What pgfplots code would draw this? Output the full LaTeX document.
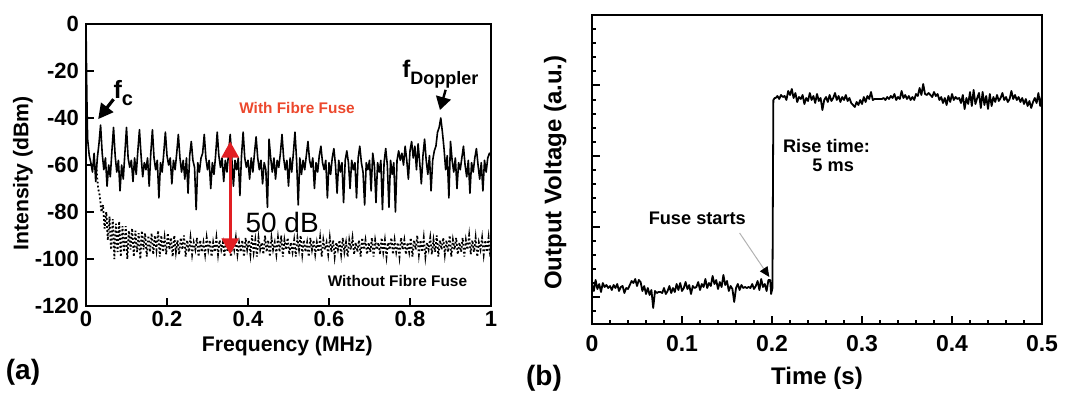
\documentclass[border=0pt]{standalone}
\usepackage{fontspec}
\setmainfont{Liberation Sans}
\usepackage{pgfplots}
\pgfplotsset{compat=1.18}
\usetikzlibrary{arrows.meta}
\definecolor{arrred}{RGB}{225,30,35}
\definecolor{txtred}{RGB}{236,72,45}
\begin{document}
\begin{tikzpicture}
\useasboundingbox (0,0) rectangle (540pt,196pt);
\begin{axis}[
 at={(43pt,43pt)}, anchor=south west, scale only axis, width=202.5pt, height=141pt,
 xmin=0, xmax=1, ymin=-120, ymax=0,
 axis line style={line width=1.2pt},
 tick align=inside, xtick pos=bottom, ytick pos=left,
 major tick length=4pt, every tick/.style={black, line width=1pt},
 xtick={0,0.2,0.4,0.6,0.8,1}, xticklabels={0,0.2,0.4,0.6,0.8,1},
 ytick={-120,-100,-80,-60,-40,-20,0}, yticklabels={-120,-100,-80,-60,-40,-20,0},
 tick label style={font=\bfseries\fontsize{11}{11}\selectfont},
 xticklabel style={yshift=1pt},
 xlabel={Frequency (MHz)}, ylabel={Intensity (dBm)},
 label style={font=\bfseries\fontsize{10.6}{11}\selectfont},
 xlabel style={at={(axis description cs:0.497,-0.143)}, anchor=center},
 ylabel style={at={(axis description cs:-0.156,0.47)}, anchor=center},
]
\addplot[black, line width=0.9pt, dash pattern=on 0.9pt off 1.1pt] coordinates {
(0.026,-62)(0.030,-70)(0.034,-73)(0.038,-80)(0.042,-77)(0.046,-87)(0.050,-80)(0.054,-92)(0.058,-82)(0.062,-96)
(0.066,-83)(0.070,-100)(0.074,-85)(0.078,-97)(0.082,-84)(0.086,-99)(0.090,-86)(0.094,-97)(0.098,-86)(0.102,-100)
(0.106,-88)(0.110,-96)(0.114,-87)(0.118,-99)(0.122,-88)(0.126,-97)(0.130,-89)(0.134,-100)(0.138,-88)(0.142,-96)
(0.146,-89)(0.150,-99)(0.154,-90)(0.158,-97)(0.162,-89)(0.166,-98)(0.170,-90)(0.174,-96)(0.178,-88)(0.182,-99)
(0.186,-90)(0.190,-97)(0.194,-91)(0.198,-98)(0.202,-89)(0.206,-96)(0.210,-91)(0.214,-99)(0.218,-90)(0.222,-97)
(0.226,-92)(0.230,-98)(0.234,-91)(0.238,-96)(0.242,-90)(0.246,-99)(0.250,-92)(0.254,-97)(0.258,-91)(0.262,-98)
(0.266,-93)(0.270,-96)(0.274,-91)(0.278,-99)(0.282,-92)(0.286,-97)(0.290,-93)(0.294,-98)(0.298,-91)(0.302,-96)
(0.306,-92)(0.310,-99)(0.314,-93)(0.318,-97)(0.322,-91)(0.326,-98)(0.330,-92)(0.334,-96)(0.338,-93)(0.342,-99)
(0.346,-92)(0.350,-97)(0.354,-93)(0.358,-99)(0.362,-92)(0.366,-96)(0.370,-91)(0.374,-98)(0.378,-93)(0.382,-97)
(0.386,-92)(0.390,-99)(0.394,-91)(0.398,-96)(0.402,-92)(0.406,-98)(0.410,-90)(0.414,-97)(0.418,-92)(0.422,-99)
(0.426,-91)(0.430,-96)(0.434,-93)(0.438,-98)(0.442,-90)(0.446,-97)(0.450,-92)(0.454,-99)(0.458,-91)(0.462,-96)
(0.466,-93)(0.470,-98)(0.474,-91)(0.478,-97)(0.482,-90)(0.486,-99)(0.490,-92)(0.494,-96)(0.498,-91)(0.502,-98)
(0.506,-93)(0.510,-97)(0.514,-92)(0.518,-99)(0.522,-91)(0.526,-96)(0.530,-90)(0.534,-98)(0.538,-92)(0.542,-97)
(0.546,-93)(0.550,-99)(0.554,-91)(0.558,-96)(0.562,-92)(0.566,-98)(0.570,-93)(0.574,-97)(0.578,-91)(0.582,-99)
(0.586,-92)(0.590,-96)(0.594,-93)(0.598,-98)(0.602,-91)(0.606,-97)(0.610,-92)(0.614,-99)(0.618,-93)(0.622,-96)
(0.626,-92)(0.630,-98)(0.634,-91)(0.638,-97)(0.642,-93)(0.646,-99)(0.650,-92)(0.654,-96)(0.658,-91)(0.662,-98)
(0.666,-93)(0.670,-97)(0.674,-92)(0.678,-99)(0.682,-91)(0.686,-96)(0.690,-92)(0.694,-98)(0.698,-93)(0.702,-97)
(0.706,-91)(0.710,-99)(0.714,-92)(0.718,-96)(0.722,-93)(0.726,-98)(0.730,-91)(0.734,-97)(0.738,-92)(0.742,-99)
(0.746,-93)(0.750,-96)(0.754,-91)(0.758,-98)(0.762,-92)(0.766,-97)(0.770,-93)(0.774,-99)(0.778,-91)(0.782,-96)
(0.786,-92)(0.790,-98)(0.794,-93)(0.798,-97)(0.802,-91)(0.806,-99)(0.810,-92)(0.814,-96)(0.818,-90)(0.822,-98)
(0.826,-92)(0.830,-97)(0.834,-91)(0.838,-99)(0.842,-93)(0.846,-96)(0.850,-91)(0.854,-98)(0.858,-92)(0.862,-97)
(0.866,-90)(0.870,-99)(0.874,-92)(0.878,-96)(0.882,-91)(0.886,-98)(0.890,-92)(0.894,-97)(0.898,-90)(0.902,-99)
(0.906,-92)(0.910,-96)(0.914,-91)(0.918,-98)(0.922,-93)(0.926,-97)(0.930,-91)(0.934,-99)(0.938,-92)(0.942,-96)
(0.946,-90)(0.950,-98)(0.954,-92)(0.958,-97)(0.962,-91)(0.966,-99)(0.970,-93)(0.974,-96)(0.978,-91)(0.982,-98)
(0.986,-92)(0.990,-97)(0.994,-91)(0.998,-99)(1.000,-94)
};
\addplot[black, line width=0.8pt, line join=round] coordinates {
(0,0)(0.002,-30)(0.004,-49)(0.008,-56)(0.012,-59)(0.016,-63)(0.020,-55)(0.024,-67)(0.028,-57)(0.032,-51)
(0.036,-43)(0.040,-55)(0.044,-62)(0.048,-57)(0.052,-69)(0.056,-60)(0.060,-65)(0.064,-54)(0.068,-44)(0.072,-56)
(0.076,-63)(0.080,-58)(0.084,-71)(0.088,-60)(0.092,-66)(0.096,-55)(0.100,-44)(0.104,-57)(0.108,-61)(0.112,-58)
(0.116,-67)(0.120,-57)(0.124,-64)(0.128,-54)(0.132,-45)(0.136,-56)(0.140,-65)(0.144,-59)(0.148,-62)(0.152,-57)
(0.156,-69)(0.160,-55)(0.164,-45)(0.168,-57)(0.172,-62)(0.176,-58)(0.180,-74)(0.184,-59)(0.188,-63)(0.192,-55)
(0.196,-46)(0.200,-56)(0.204,-60)(0.208,-57)(0.212,-68)(0.216,-58)(0.220,-62)(0.224,-55)(0.228,-47)(0.232,-57)
(0.236,-63)(0.240,-58)(0.244,-66)(0.248,-57)(0.252,-72)(0.256,-56)(0.260,-50)(0.264,-58)(0.268,-61)(0.272,-79)
(0.276,-59)(0.280,-63)(0.284,-57)(0.288,-55)(0.292,-47)(0.296,-57)(0.300,-62)(0.304,-58)(0.308,-70)(0.312,-59)
(0.316,-64)(0.320,-56)(0.324,-46)(0.328,-56)(0.332,-61)(0.336,-57)(0.340,-67)(0.344,-58)(0.348,-63)(0.352,-55)
(0.356,-47)(0.360,-57)(0.364,-69)(0.368,-58)(0.372,-62)(0.376,-57)(0.380,-73)(0.384,-56)(0.388,-46)(0.392,-57)
(0.396,-61)(0.400,-58)(0.404,-66)(0.408,-57)(0.412,-63)(0.416,-55)(0.420,-48)(0.424,-57)(0.428,-62)(0.432,-58)
(0.436,-68)(0.440,-59)(0.444,-62)(0.448,-78)(0.452,-49)(0.456,-57)(0.460,-63)(0.464,-57)(0.468,-66)(0.472,-58)
(0.476,-61)(0.480,-55)(0.484,-47)(0.488,-57)(0.492,-62)(0.496,-58)(0.500,-69)(0.504,-57)(0.508,-63)(0.512,-55)
(0.516,-46)(0.520,-58)(0.524,-77)(0.528,-57)(0.532,-64)(0.536,-58)(0.540,-62)(0.544,-56)(0.548,-50)(0.552,-58)
(0.556,-61)(0.560,-57)(0.564,-70)(0.568,-59)(0.572,-63)(0.576,-56)(0.580,-52)(0.584,-59)(0.588,-62)(0.592,-58)
(0.596,-74)(0.600,-59)(0.604,-64)(0.608,-57)(0.612,-53)(0.616,-60)(0.620,-72)(0.624,-58)(0.628,-63)(0.632,-59)
(0.636,-76)(0.640,-58)(0.644,-54)(0.648,-59)(0.652,-70)(0.656,-58)(0.660,-62)(0.664,-59)(0.668,-74)(0.672,-57)
(0.676,-52)(0.680,-59)(0.684,-63)(0.688,-77)(0.692,-59)(0.696,-62)(0.700,-58)(0.704,-71)(0.708,-55)(0.712,-60)
(0.716,-76)(0.720,-59)(0.724,-63)(0.728,-58)(0.732,-79)(0.736,-59)(0.740,-53)(0.744,-60)(0.748,-78)(0.752,-58)
(0.756,-64)(0.760,-59)(0.764,-80)(0.768,-58)(0.772,-54)(0.776,-58)(0.780,-55)(0.784,-60)(0.788,-52)(0.792,-58)
(0.796,-66)(0.800,-54)(0.804,-50)(0.808,-57)(0.812,-52)(0.816,-62)(0.820,-51)(0.824,-59)(0.828,-68)(0.832,-56)
(0.836,-49)(0.840,-58)(0.844,-64)(0.848,-56)(0.852,-71)(0.856,-58)(0.860,-54)(0.864,-52)(0.868,-46)(0.872,-44)
(0.876,-40)(0.880,-46)(0.884,-53)(0.888,-62)(0.892,-56)(0.896,-74)(0.900,-50)(0.904,-58)(0.908,-63)(0.912,-57)
(0.916,-70)(0.920,-59)(0.924,-62)(0.928,-57)(0.932,-52)(0.936,-60)(0.940,-65)(0.944,-58)(0.948,-72)(0.952,-59)
(0.956,-63)(0.960,-57)(0.964,-53)(0.968,-60)(0.972,-66)(0.976,-59)(0.980,-71)(0.984,-58)(0.988,-63)(0.992,-57)
(0.996,-55)(1.000,-56)
};
\draw[arrred, line width=1.4pt, {Triangle[width=8.5pt,length=8pt]}-{Triangle[width=8.5pt,length=8pt]}] (axis cs:0.356,-50) -- (axis cs:0.356,-98);
\draw[black, line width=1.6pt, -{Triangle[width=7.5pt,length=7.5pt]}] (axis cs:0.068,-32) -- (axis cs:0.030,-40.5);
\draw[black, line width=1.2pt, -{Triangle[width=7.5pt,length=6.5pt]}] (axis cs:0.888,-28) -- (axis cs:0.874,-36.6);
\node[anchor=base west, inner sep=0, font=\bfseries\fontsize{12.5}{12}\selectfont] at (axis cs:0.067,-31.5) {f\raisebox{-3.8pt}{\fontsize{10}{10}\selectfont c}};
\node[anchor=base west, inner sep=0, font=\bfseries\fontsize{12}{12}\selectfont] at (axis cs:0.780,-22.6) {f\raisebox{-3.5pt}{\fontsize{9}{9}\selectfont Doppler}};
\node[anchor=base, inner sep=0, text=txtred, font=\bfseries\fontsize{7.7}{8}\selectfont] at (axis cs:0.521,-37.9) {With Fibre Fuse};
\node[anchor=base west, inner sep=0, font=\fontsize{14}{14}\selectfont] at (axis cs:0.393,-88.9) {50 dB};
\node[anchor=base, inner sep=0, font=\bfseries\fontsize{7.7}{8}\selectfont] at (axis cs:0.769,-111.5) {Without Fibre Fuse};
\end{axis}

\begin{axis}[
 at={(296pt,34pt)}, anchor=south west, scale only axis, width=225pt, height=154.5pt,
 xmin=0, xmax=0.5, ymin=0, ymax=309,
 axis line style={line width=1.2pt},
 tick align=inside, xtick pos=bottom, ytick pos=left,
 major tick length=4pt, minor tick length=2pt,
 every tick/.style={black, line width=1pt},
 xtick={0,0.1,0.2,0.3,0.4,0.5}, xticklabels={0,0.1,0.2,0.3,0.4,0.5},
 ytick={-43.5,27,97.5,168,238.5,309}, yticklabels={},
 minor x tick num=4, minor y tick num=4,
 tick label style={font=\bfseries\fontsize{11.5}{12}\selectfont},
 xticklabel style={yshift=-2pt},
 xlabel={Time (s)}, ylabel={Output Voltage (a.u.)},
 label style={font=\bfseries\fontsize{12}{12}\selectfont},
 xlabel style={at={(axis description cs:0.5,-0.175)}, anchor=center},
 ylabel style={at={(axis description cs:-0.082,0.49)}, anchor=center},
]
\addplot[black, line width=0.9pt, line join=round] coordinates {
(0.000,40)(0.002,33)(0.004,44)(0.006,35)(0.008,40)(0.010,32)(0.012,41)(0.014,37)(0.016,39)(0.018,36)
(0.020,38)(0.022,34)(0.024,39)(0.026,36)(0.028,40)(0.030,33)(0.032,37)(0.034,38)(0.036,31)(0.038,36)
(0.040,35)(0.042,39)(0.044,43)(0.046,41)(0.048,45)(0.050,38)(0.052,44)(0.054,42)(0.056,33)(0.058,38)
(0.060,30)(0.062,36)(0.064,29)(0.066,34)(0.068,16)(0.070,33)(0.072,31)(0.074,32)(0.076,32)(0.078,31)
(0.080,36)(0.082,30)(0.084,33)(0.086,38)(0.088,31)(0.090,36)(0.092,32)(0.094,40)(0.096,34)(0.098,41)
(0.100,33)(0.102,36)(0.104,42)(0.106,35)(0.108,39)(0.110,30)(0.112,38)(0.114,36)(0.116,37)(0.118,42)
(0.120,34)(0.122,40)(0.124,37)(0.126,45)(0.128,36)(0.130,41)(0.132,38)(0.134,48)(0.136,40)(0.138,44)
(0.140,35)(0.142,42)(0.144,37)(0.146,49)(0.148,39)(0.150,43)(0.152,33)(0.154,38)(0.156,35)(0.158,22)
(0.160,36)(0.162,40)(0.164,34)(0.166,39)(0.168,36)(0.170,37)(0.172,36)(0.174,37)(0.176,36)(0.178,40)
(0.180,35)(0.182,38)(0.184,43)(0.186,34)(0.188,45)(0.190,37)(0.192,40)(0.194,33)(0.196,44)(0.198,44)
(0.199,30)(0.2005,36)(0.2015,224)(0.203,226)
(0.204,226)(0.206,228)(0.208,225)(0.210,229)(0.212,227)(0.214,228)(0.216,224)(0.218,233)(0.220,229)(0.222,235)
(0.224,226)(0.226,231)(0.228,222)(0.230,227)(0.232,225)(0.234,229)(0.236,220)(0.238,226)(0.240,223)(0.242,231)
(0.244,224)(0.246,228)(0.248,221)(0.250,230)(0.252,223)(0.254,226)(0.256,214)(0.258,224)(0.260,227)(0.262,222)
(0.264,229)(0.266,223)(0.268,226)(0.270,231)(0.272,224)(0.274,228)(0.276,222)(0.278,227)(0.280,224)(0.282,229)
(0.284,223)(0.286,226)(0.288,221)(0.290,219)(0.292,217)(0.294,222)(0.296,219)(0.298,224)(0.300,220)(0.302,227)
(0.304,222)(0.306,228)(0.308,225)(0.310,232)(0.312,224)(0.314,225)(0.316,225)(0.318,225)(0.320,225)(0.322,225)
(0.324,226)(0.326,224)(0.328,227)(0.330,225)(0.332,228)(0.334,226)(0.336,230)(0.338,224)(0.340,227)(0.342,225)
(0.344,233)(0.346,226)(0.348,229)(0.350,225)(0.352,228)(0.354,224)(0.356,227)(0.358,224)(0.360,230)(0.362,228)
(0.364,236)(0.366,229)(0.368,240)(0.370,230)(0.372,229)(0.374,231)(0.376,229)(0.378,227)(0.380,232)(0.382,228)
(0.384,230)(0.386,224)(0.388,227)(0.390,221)(0.392,226)(0.394,219)(0.396,228)(0.398,222)(0.400,230)(0.402,224)
(0.404,227)(0.406,225)(0.408,226)(0.410,221)(0.412,229)(0.414,215)(0.416,226)(0.418,220)(0.420,232)(0.422,218)
(0.424,234)(0.426,220)(0.428,226)(0.430,231)(0.432,216)(0.434,232)(0.436,219)(0.438,228)(0.440,215)(0.442,230)
(0.444,218)(0.446,227)(0.448,222)(0.450,229)(0.452,223)(0.454,226)(0.456,231)(0.458,224)(0.460,227)(0.462,222)
(0.464,225)(0.466,233)(0.468,225)(0.470,229)(0.472,224)(0.474,227)(0.476,222)(0.478,226)(0.480,220)(0.482,225)
(0.484,218)(0.486,223)(0.488,216)(0.490,222)(0.492,226)(0.494,221)(0.496,231)(0.498,218)(0.500,229)
};
\draw[gray!60, line width=0.5pt, -{Triangle[width=4.5pt,length=5pt,color=black]}] (axis cs:0.164,91) -- (axis cs:0.197,47);
\node[anchor=base, inner sep=0, font=\bfseries\fontsize{9.1}{10}\selectfont] at (axis cs:0.2606,172) {Rise time:};
\node[anchor=base, inner sep=0, font=\bfseries\fontsize{9.1}{10}\selectfont] at (axis cs:0.268,153) {5 ms};
\node[anchor=base, inner sep=0, font=\bfseries\fontsize{9.1}{10}\selectfont] at (axis cs:0.117,100) {Fuse starts};
\end{axis}
\node[font=\bfseries\fontsize{14}{14}\selectfont] at (11.5pt,10pt) {(a)};
\node[font=\bfseries\fontsize{14}{14}\selectfont] at (272pt,7pt) {(b)};
\end{tikzpicture}
\end{document}
